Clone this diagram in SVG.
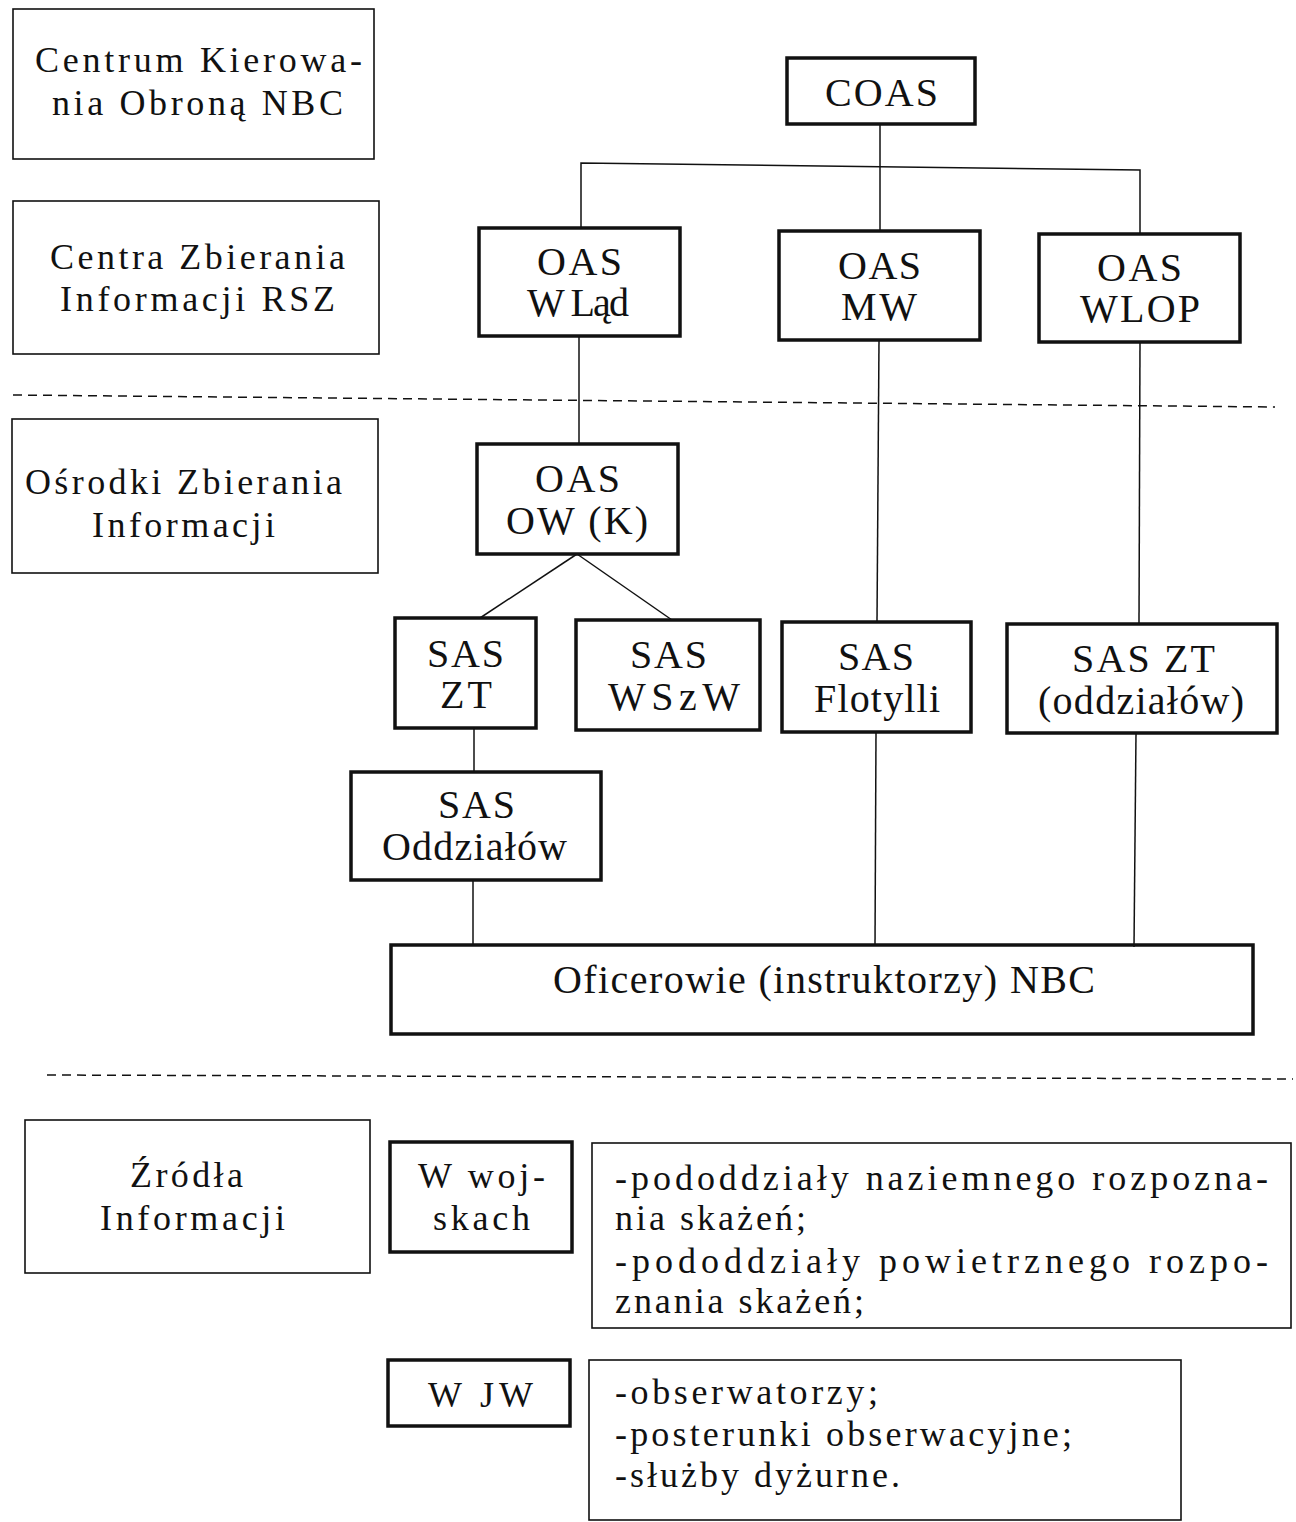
<svg xmlns="http://www.w3.org/2000/svg" width="1296" height="1522" viewBox="0 0 1296 1522">
<style>
.thin{fill:none;stroke:#111;stroke-width:1.6}
.thick{fill:none;stroke:#111;stroke-width:3.5}
.ln{fill:none;stroke:#111;stroke-width:1.5}
.dash{fill:none;stroke:#111;stroke-width:1.5;stroke-dasharray:9 6}
text{font-family:"Liberation Serif","Times New Roman",serif;fill:#111;font-size:40px}
.s{font-size:36px}
</style>
<rect width="1296" height="1522" fill="#fff"/>
<g id="connectors">
<line class="ln" x1="880" y1="124" x2="880" y2="231"/>
<polyline class="ln" points="581,228 581,163 1140,170 1140,234"/>
<line class="ln" x1="579" y1="336" x2="579" y2="444"/>
<line class="ln" x1="577" y1="554" x2="480" y2="618"/>
<line class="ln" x1="577" y1="554" x2="672" y2="620"/>
<line class="ln" x1="879" y1="340" x2="877" y2="622"/>
<line class="ln" x1="1140" y1="342" x2="1139" y2="624"/>
<line class="ln" x1="474" y1="728" x2="474" y2="772"/>
<line class="ln" x1="473" y1="880" x2="473" y2="945"/>
<line class="ln" x1="876" y1="732" x2="875" y2="946"/>
<line class="ln" x1="1136" y1="733" x2="1134" y2="947"/>
</g>
<g id="separators">
<line class="dash" x1="13" y1="395" x2="1275" y2="407"/>
<line class="dash" x1="47" y1="1075" x2="1293" y2="1079"/>
</g>
<g id="centrum-kierowania">
<rect class="thin" x="13" y="9" width="361" height="150"/>
<text class="s" x="35" y="72" textLength="327" lengthAdjust="spacing">Centrum Kierowa-</text>
<text class="s" x="52" y="115" textLength="291" lengthAdjust="spacing">nia Obroną NBC</text>
</g>
<g id="centra-zbierania">
<rect class="thin" x="13" y="201" width="366" height="153"/>
<text class="s" x="50" y="269" textLength="295" lengthAdjust="spacing">Centra Zbierania</text>
<text class="s" x="60" y="311" textLength="275" lengthAdjust="spacing">Informacji RSZ</text>
</g>
<g id="osrodki-zbierania">
<rect class="thin" x="12" y="419" width="366" height="154"/>
<text class="s" x="25" y="494" textLength="317" lengthAdjust="spacing">Ośrodki Zbierania</text>
<text class="s" x="92" y="537" textLength="183" lengthAdjust="spacing">Informacji</text>
</g>
<g id="coas">
<rect class="thick" x="787" y="58" width="188" height="66"/>
<text x="825" y="106" textLength="113" lengthAdjust="spacing">COAS</text>
</g>
<g id="oas-wlad">
<rect class="thick" x="479" y="228" width="201" height="108"/>
<text x="537" y="275" textLength="85" lengthAdjust="spacing">OAS</text>
<text x="527" y="316" textLength="102" lengthAdjust="spacing">W Ląd</text>
</g>
<g id="oas-mw">
<rect class="thick" x="779" y="231" width="201" height="109"/>
<text x="838" y="279" textLength="83" lengthAdjust="spacing">OAS</text>
<text x="841" y="320" textLength="76" lengthAdjust="spacing">MW</text>
</g>
<g id="oas-wlop">
<rect class="thick" x="1039" y="234" width="201" height="108"/>
<text x="1097" y="281" textLength="85" lengthAdjust="spacing">OAS</text>
<text x="1080" y="322" textLength="120" lengthAdjust="spacing">WLOP</text>
</g>
<g id="oas-owk">
<rect class="thick" x="477" y="444" width="201" height="110"/>
<text x="535" y="492" textLength="85" lengthAdjust="spacing">OAS</text>
<text x="506" y="534" textLength="142" lengthAdjust="spacing">OW (K)</text>
</g>
<g id="sas-zt">
<rect class="thick" x="395" y="618" width="141" height="110"/>
<text x="427" y="667" textLength="77" lengthAdjust="spacing">SAS</text>
<text x="440" y="708" textLength="52" lengthAdjust="spacing">ZT</text>
</g>
<g id="sas-wszw">
<rect class="thick" x="576" y="620" width="184" height="110"/>
<text x="630" y="668" textLength="77" lengthAdjust="spacing">SAS</text>
<text x="608" y="710" textLength="132" lengthAdjust="spacing">WSzW</text>
</g>
<g id="sas-flotylli">
<rect class="thick" x="782" y="622" width="189" height="110"/>
<text x="838" y="670" textLength="76" lengthAdjust="spacing">SAS</text>
<text x="814" y="712" textLength="126" lengthAdjust="spacing">Flotylli</text>
</g>
<g id="sas-zt-oddzialow">
<rect class="thick" x="1007" y="624" width="270" height="109"/>
<text x="1072" y="672" textLength="143" lengthAdjust="spacing">SAS ZT</text>
<text x="1038" y="714" textLength="206" lengthAdjust="spacing">(oddziałów)</text>
</g>
<g id="sas-oddzialow">
<rect class="thick" x="351" y="772" width="250" height="108"/>
<text x="438" y="818" textLength="77" lengthAdjust="spacing">SAS</text>
<text x="382" y="860" textLength="185" lengthAdjust="spacing">Oddziałów</text>
</g>
<g id="oficerowie">
<rect class="thick" x="391" y="945" width="862" height="89"/>
<text x="553" y="993" textLength="542" lengthAdjust="spacing">Oficerowie (instruktorzy) NBC</text>
</g>
<g id="zrodla">
<rect class="thin" x="25" y="1120" width="345" height="153"/>
<text class="s" x="130" y="1187" textLength="113" lengthAdjust="spacing">Źródła</text>
<text class="s" x="100" y="1230" textLength="185" lengthAdjust="spacing">Informacji</text>
</g>
<g id="w-wojskach">
<rect class="thick" x="390" y="1142" width="182" height="110"/>
<text class="s" x="418" y="1188" textLength="127" lengthAdjust="spacing">W woj-</text>
<text class="s" x="433" y="1230" textLength="97" lengthAdjust="spacing">skach</text>
</g>
<g id="wojska-lista">
<rect class="thin" x="592" y="1143" width="699" height="185"/>
<text class="s" x="615" y="1190" textLength="653" lengthAdjust="spacing">-pododdziały naziemnego rozpozna-</text>
<text class="s" x="615" y="1230" textLength="191" lengthAdjust="spacing">nia skażeń;</text>
<text class="s" x="615" y="1273" textLength="653" lengthAdjust="spacing">-pododdziały powietrznego rozpo-</text>
<text class="s" x="615" y="1313" textLength="249" lengthAdjust="spacing">znania skażeń;</text>
</g>
<g id="w-jw">
<rect class="thick" x="388" y="1360" width="182" height="66"/>
<text class="s" x="428" y="1407" textLength="105" lengthAdjust="spacing">W JW</text>
</g>
<g id="jw-lista">
<rect class="thin" x="589" y="1360" width="592" height="160"/>
<text class="s" x="615" y="1404" textLength="263" lengthAdjust="spacing">-obserwatorzy;</text>
<text class="s" x="615" y="1446" textLength="457" lengthAdjust="spacing">-posterunki obserwacyjne;</text>
<text class="s" x="615" y="1487" textLength="285" lengthAdjust="spacing">-służby dyżurne.</text>
</g>
</svg>
